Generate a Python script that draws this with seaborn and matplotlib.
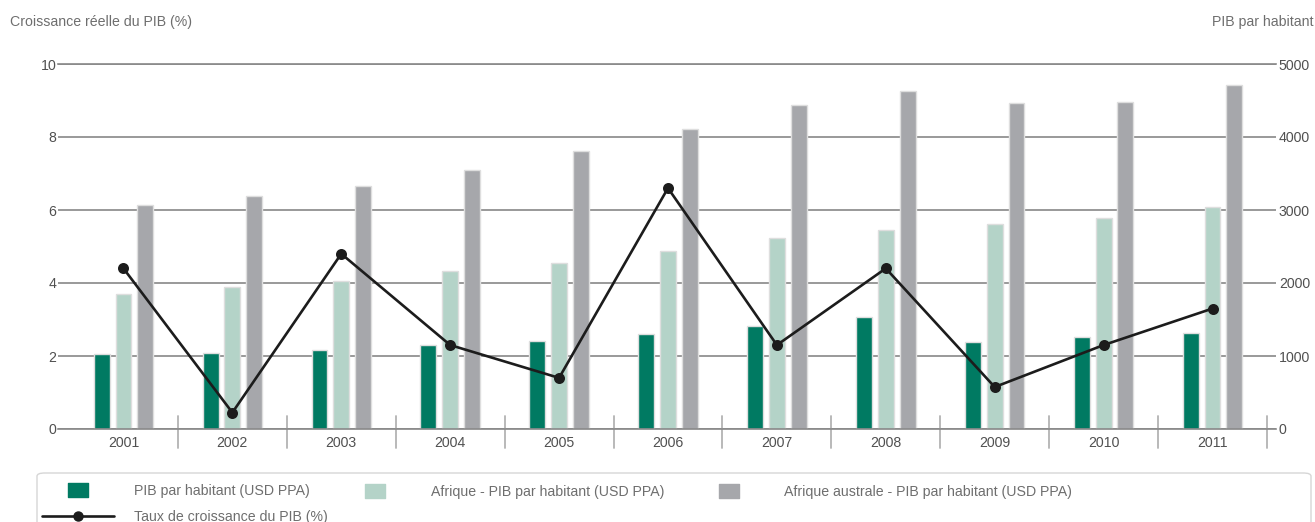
import matplotlib
matplotlib.use("Agg")
import matplotlib.pyplot as plt
import matplotlib.transforms as mtransforms
from matplotlib.lines import Line2D
from matplotlib.patches import FancyBboxPatch
from matplotlib.path import Path
import pandas as pd
import seaborn as sns

# ---- data -------------------------------------------------------------
years = ["2001", "2002", "2003", "2004", "2005", "2006",
         "2007", "2008", "2009", "2010", "2011"]
pib_habitant = [1030, 1045, 1080, 1150, 1210, 1300, 1410, 1530, 1190, 1265, 1310]
afrique_pib_habitant = [1850, 1940, 2030, 2170, 2280, 2445, 2615, 2725, 2805, 2885, 3045]
australe_pib_habitant = [3070, 3195, 3335, 3550, 3815, 4105, 4435, 4625, 4470, 4475, 4715]
croissance_pib = [4.4, 0.45, 4.8, 2.3, 1.4, 6.6, 2.3, 4.4, 1.15, 2.3, 3.3]

series_names = ["PIB par habitant (USD PPA)",
                "Afrique - PIB par habitant (USD PPA)",
                "Afrique australe - PIB par habitant (USD PPA)"]
line_name = "Taux de croissance du PIB (%)"
left_title = "Croissance réelle du PIB (%)"
right_title = "PIB par habitant"
left_ticks = [0, 2, 4, 6, 8, 10]
right_ticks = [0, 1000, 2000, 3000, 4000, 5000]

# ---- style ------------------------------------------------------------
sns.set_style("white")
plt.rcParams["font.family"] = ["Liberation Sans", "DejaVu Sans"]
FS = 10.2
plt.rcParams["font.size"] = FS

c_dark = "#007a62"
c_light = "#b4d3c8"
c_gray = "#a6a7ab"
c_line = "#1c1c1c"
c_grid = "#888888"
c_text = "#6e6e6e"
c_tick = "#505050"

W, H = 1315, 522
fig = plt.figure(figsize=(W / 100, H / 100), dpi=100)

# axes box in pixels: x 58..1276, y 64..429
ax = fig.add_axes([58 / W, 1 - 429 / H, (1276 - 58) / W, (429 - 64) / H])

df = pd.DataFrame({
    "annee": years * 3,
    "valeur": pib_habitant + afrique_pib_habitant + australe_pib_habitant,
    "serie": [series_names[0]] * len(years)
             + [series_names[1]] * len(years)
             + [series_names[2]] * len(years),
})

# bars on the per-capita scale (0-5000)
sns.barplot(data=df, x="annee", y="valeur", hue="serie", order=years,
            hue_order=series_names, palette=[c_dark, c_light, c_gray],
            width=0.6, gap=0.27, saturation=1, errorbar=None,
            edgecolor="#dedede", linewidth=1.0, legend=False, ax=ax)

# growth line on the percent scale (0-10)
ax2 = ax.twinx()
sns.pointplot(x=years, y=croissance_pib, order=years, color=c_line,
              markers="o", markersize=6.5, linewidth=1.9, ax=ax2)

# per-capita scale on the right, percent scale on the left
ax.set_ylim(0, 5000)
ax.set_yticks(right_ticks)
ax.yaxis.tick_right()
ax.grid(axis="y", color=c_grid, linewidth=1.2)
ax.grid(axis="x", visible=False)
ax.set_axisbelow(True)
for side in ("left", "right"):
    ax.spines[side].set_visible(False)
for side in ("top", "bottom"):
    ax.spines[side].set_color(c_grid)
    ax.spines[side].set_linewidth(1.2)
ax.tick_params(axis="y", length=0, pad=2, labelsize=FS, labelcolor=c_tick)
ax.tick_params(axis="x", length=0, pad=5, labelsize=FS, labelcolor=c_tick)
ax.set_xlabel("")
ax.set_ylabel("")

ax2.set_ylim(0, 10)
ax2.set_yticks(left_ticks)
ax2.yaxis.tick_left()
ax2.tick_params(axis="y", length=0, pad=1, labelsize=FS, labelcolor=c_tick)
for s in ax2.spines.values():
    s.set_visible(False)
ax2.set_xlabel("")
ax2.set_ylabel("")

ax.set_xlim(-0.601, 10.583)
ax2.set_xlim(-0.601, 10.583)

# category separators crossing the baseline
trans = mtransforms.blended_transform_factory(ax.transData, ax.transAxes)
for k in range(len(years)):
    ax.plot([k + 0.5, k + 0.5], [13 / 365, -19 / 365], color="#b3b3b3",
            linewidth=1.3, transform=trans, clip_on=False)

# axis titles
fig.text(10 / W, 1 - 22 / H, left_title, color=c_text, fontsize=FS,
         ha="left", va="center")
fig.text(1313 / W, 1 - 22 / H, right_title, color=c_text, fontsize=FS,
         ha="right", va="center")

# legend frame
frame = FancyBboxPatch((37 / W, -0.2), (1311 - 37) / W, (0.2 + 1 - 473 / H),
                       boxstyle="round,pad=0,rounding_size=0.006",
                       transform=fig.transFigure, facecolor="none",
                       edgecolor="#d6d6d6", linewidth=1.0, clip_on=False)
fig.patches.append(frame)

# rectangular swatch marker (wider than tall)
rect = Path([(-0.7, -0.5), (0.7, -0.5), (0.7, 0.5), (-0.7, 0.5), (-0.7, -0.5)],
            [Path.MOVETO, Path.LINETO, Path.LINETO, Path.LINETO, Path.CLOSEPOLY])

def swatch(color):
    return Line2D([], [], linestyle="none", marker=rect, markersize=15,
                  markerfacecolor=color, markeredgecolor=color)

line_handle = Line2D([], [], color=c_line, linewidth=1.9, marker="o",
                     markersize=6.5)

common = dict(frameon=False, borderpad=0, borderaxespad=0, fontsize=FS,
              labelcolor=c_text)
fig.legend([swatch(c_dark), line_handle], [series_names[0], line_name],
           loc="center left", bbox_to_anchor=(42 / W, 1 - 504 / H),
           handlelength=5.1, handletextpad=1.4, labelspacing=0.85, **common)
fig.legend([swatch(c_light)], [series_names[1]],
           loc="center left", bbox_to_anchor=(362 / W, 1 - 492 / H),
           handlelength=1.9, handletextpad=2.95, **common)
fig.legend([swatch(c_gray)], [series_names[2]],
           loc="center left", bbox_to_anchor=(715.5 / W, 1 - 492 / H),
           handlelength=1.9, handletextpad=2.95, **common)

fig.savefig("out.png", dpi=100)
